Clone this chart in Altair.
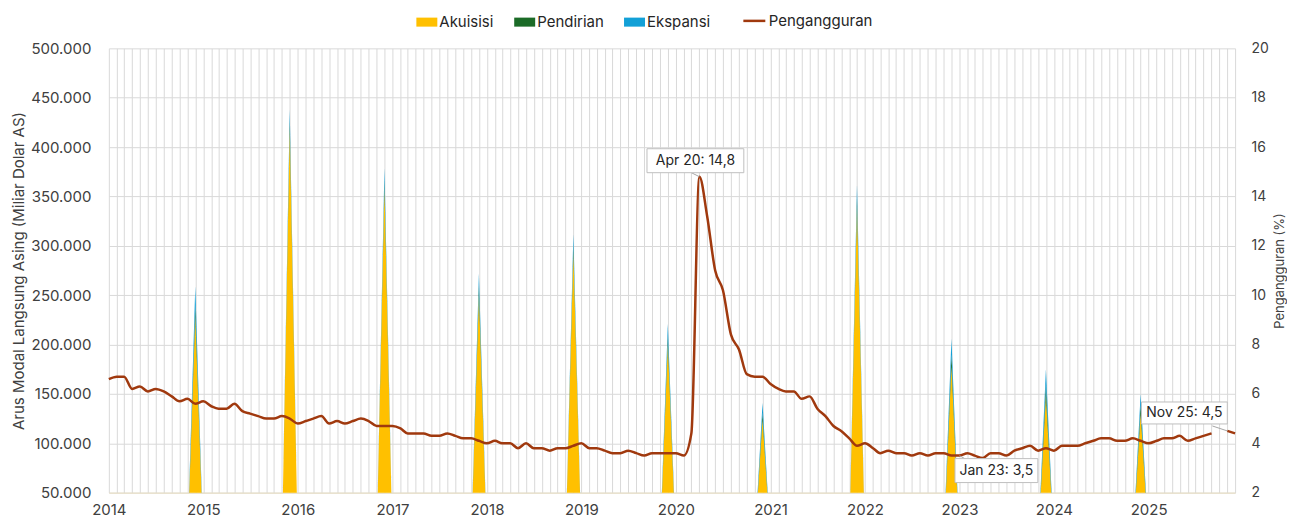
import altair as alt
import pandas as pd

# ---------------- data ----------------
bulan = pd.date_range("2014-01-01", "2025-12-01", freq="MS")
tanggal = [d.strftime("%Y-%m-%dT00:00:00") for d in bulan]

# unemployment rate (%), monthly Jan 2014 .. Dec 2025 (Oct 2025 missing)
pengangguran = [
    6.6, 6.7, 6.7, 6.2, 6.3, 6.1, 6.2, 6.1, 5.9, 5.7, 5.8, 5.6,   # 2014
    5.7, 5.5, 5.4, 5.4, 5.6, 5.3, 5.2, 5.1, 5.0, 5.0, 5.1, 5.0,   # 2015
    4.8, 4.9, 5.0, 5.1, 4.8, 4.9, 4.8, 4.9, 5.0, 4.9, 4.7, 4.7,   # 2016
    4.7, 4.6, 4.4, 4.4, 4.4, 4.3, 4.3, 4.4, 4.3, 4.2, 4.2, 4.1,   # 2017
    4.0, 4.1, 4.0, 4.0, 3.8, 4.0, 3.8, 3.8, 3.7, 3.8, 3.8, 3.9,   # 2018
    4.0, 3.8, 3.8, 3.7, 3.6, 3.6, 3.7, 3.6, 3.5, 3.6, 3.6, 3.6,   # 2019
    3.6, 3.5, 4.4, 14.8, 13.2, 11.0, 10.2, 8.4, 7.8, 6.8, 6.7, 6.7,  # 2020
    6.4, 6.2, 6.1, 6.1, 5.8, 5.9, 5.4, 5.1, 4.7, 4.5, 4.2, 3.9,   # 2021
    4.0, 3.8, 3.6, 3.7, 3.6, 3.6, 3.5, 3.6, 3.5, 3.6, 3.6, 3.5,   # 2022
    3.5, 3.6, 3.5, 3.4, 3.6, 3.6, 3.5, 3.7, 3.8, 3.9, 3.7, 3.8,   # 2023
    3.7, 3.9, 3.9, 3.9, 4.0, 4.1, 4.2, 4.2, 4.1, 4.1, 4.2, 4.1,   # 2024
    4.0, 4.1, 4.2, 4.2, 4.3, 4.1, 4.2, 4.3, 4.4, None, 4.5, 4.4,  # 2025
]

# FDI flows (annual, placed at December of each year 2014..2024)
tahun_fdi = [2014, 2015, 2016, 2017, 2018, 2019, 2020, 2021, 2022, 2023, 2024]
akuisisi  = [228000, 418000, 358000, 250000, 293000, 200000, 124000, 340000, 178000, 148000, 130000]
pendirian = [12000, 9000, 9000, 10000, 8000, 9000, 7000, 9000, 12000, 12000, 9000]
ekspansi  = [19000, 11000, 12000, 12000, 11000, 12000, 10000, 13000, 16000, 15000, 11000]

komponen = ["Akuisisi", "Pendirian", "Ekspansi"]
warna_komponen = ["#FFC000", "#1B6B27", "#12A0D7"]
warna_garis = "#A0390E"

anno_tanggal = ["2020-04-01T00:00:00", "2023-01-01T00:00:00", "2025-11-01T00:00:00"]
anno_nilai = [14.8, 3.5, 4.5]
anno_teks = ["Apr 20: 14,8", "Jan 23: 3,5", "Nov 25: 4,5"]

# ---------------- tables ----------------
seri = {"Akuisisi": akuisisi, "Pendirian": pendirian, "Ekspansi": ekspansi}
rows = []
for i, t in enumerate(tanggal):
    yr = bulan[i].year
    mo = bulan[i].month
    for k, nama in enumerate(komponen):
        v = 0
        if mo == 12 and yr in tahun_fdi:
            v = seri[nama][tahun_fdi.index(yr)]
        rows.append({"tanggal": t, "komponen": nama, "urut": k, "nilai": v})
df_area = pd.DataFrame(rows)

df_line = pd.DataFrame({"tanggal": tanggal, "pengangguran": pengangguran,
                        "seri": ["Pengangguran"] * len(tanggal)})

# ---------------- style ----------------
FONT = "Inter"
TXT = "#404040"
GRID = "#D9D9D9"

x_scale = alt.Scale(domain=[alt.DateTime(year=2014, month=1, date=1),
                            alt.DateTime(year=2025, month=12, date=1)])
y_left_scale = alt.Scale(domain=[50000, 500000], zero=False, nice=False)
y_right_scale = alt.Scale(domain=[2, 20], zero=False, nice=False)

x_axis = alt.Axis(
    title=None,
    tickCount={"interval": "month", "step": 1},
    labelExpr="month(datum.value) == 0 ? timeFormat(datum.value, '%Y') : ''",
    labelOverlap=False, labelFlush=False,
    labelFontSize=15, labelColor=TXT, labelPadding=10,
    ticks=False, grid=True, gridColor=GRID, gridWidth=1,
    domain=True, domainColor="#EADFC0", domainWidth=1,
)

y_left_axis = alt.Axis(
    title="Arus Modal Langsung Asing (Miliar Dolar AS)",
    titleFontSize=15, titleFontWeight="normal", titleColor=TXT, titlePadding=4,
    values=list(range(50000, 500001, 50000)),
    labelExpr="format(datum.value / 1000, 'd') + '.000'",
    labelFontSize=15, labelColor=TXT, labelPadding=18,
    ticks=False, domain=False, grid=True, gridColor=GRID, gridWidth=1,
)

y_right_axis = alt.Axis(
    orient="right",
    title="Pengangguran (%)", titleFontSize=13, titleFontWeight="normal",
    titleColor=TXT, titleAngle=270, titlePadding=18,
    values=list(range(2, 21, 2)),
    labelFontSize=14, labelColor=TXT, labelPadding=16,
    ticks=False, domain=False, grid=False,
)

# ---------------- layers ----------------
area = alt.Chart(df_area).mark_area(clip=True, interpolate="linear").encode(
    x=alt.X("tanggal:T", scale=x_scale, axis=x_axis),
    y=alt.Y("nilai:Q", stack="zero", scale=y_left_scale, axis=y_left_axis),
    color=alt.Color(
        "komponen:N",
        scale=alt.Scale(domain=komponen, range=warna_komponen),
        legend=alt.Legend(
            title=None, orient="none", legendX=308, legendY=-37,
            direction="horizontal",
            symbolType="M-1,-0.43L1,-0.43L1,0.43L-1,0.43Z", symbolSize=441,
            symbolStrokeWidth=0, symbolOpacity=1,
            labelFontSize=15, labelColor="#262626", labelOffset=2,
            columnPadding=20,
        ),
    ),
    order=alt.Order("urut:Q"),
)

garis = alt.Chart(df_line).mark_line(
    interpolate="monotone", strokeWidth=2.5, invalid="break-paths-filter-domains"
).encode(
    x=alt.X("tanggal:T", scale=x_scale, axis=x_axis),
    y=alt.Y("pengangguran:Q", scale=y_right_scale, axis=y_right_axis),
    stroke=alt.Stroke(
        "seri:N",
        scale=alt.Scale(domain=["Pengangguran"], range=[warna_garis]),
        legend=alt.Legend(
            title=None, orient="none", legendX=634, legendY=-40,
            direction="horizontal", symbolType="stroke", symbolSize=484,
            symbolStrokeWidth=2.5,
            labelFontSize=15, labelColor="#262626", labelOffset=2,
        ),
    ),
)

# annotation styling (offsets in pixels relative to the annotated point)
anno_style = [
    {"dx": -4, "dy": -16, "w": 97, "h": 24, "lx": -8, "ly": -4},
    {"dx": 37, "dy": 15, "w": 83, "h": 24, "lx": 7, "ly": 4},
    {"dx": -43, "dy": -18, "w": 86, "h": 22, "lx": -15, "ly": -5},
]

anno_layers = []
for t, v, s, st in zip(anno_tanggal, anno_nilai, anno_teks, anno_style):
    d = pd.DataFrame({"tanggal": [t], "nilai": [v], "teks": [s]})
    base = alt.Chart(d).encode(
        x=alt.X("tanggal:T", scale=x_scale, axis=x_axis),
        y=alt.Y("nilai:Q", scale=y_right_scale, axis=None),
    )
    leader = base.mark_rule(color="#A6A6A6", strokeWidth=1,
                            x2Offset=st["lx"], y2Offset=st["ly"]).encode(
        x2="tanggal:T", y2="nilai:Q")
    box = base.mark_rect(fill="white", stroke="#BFBFBF", strokeWidth=1,
                         width=st["w"], height=st["h"],
                         xOffset=st["dx"], yOffset=st["dy"])
    label = base.mark_text(fontSize=14, color="#262626", align="center",
                           baseline="middle", dx=st["dx"], dy=st["dy"]).encode(
        text="teks:N")
    anno_layers += [leader, box, label]

chart = alt.layer(area, garis, *anno_layers).resolve_scale(
    y="independent", color="independent", stroke="independent"
).properties(
    width=1128, height=445,
    padding={"left": 3, "top": 0, "right": 0, "bottom": 0},
).configure(font=FONT).configure_view(strokeWidth=0)

chart.save("out.html", embed_options={"renderer": "svg", "actions": False})
